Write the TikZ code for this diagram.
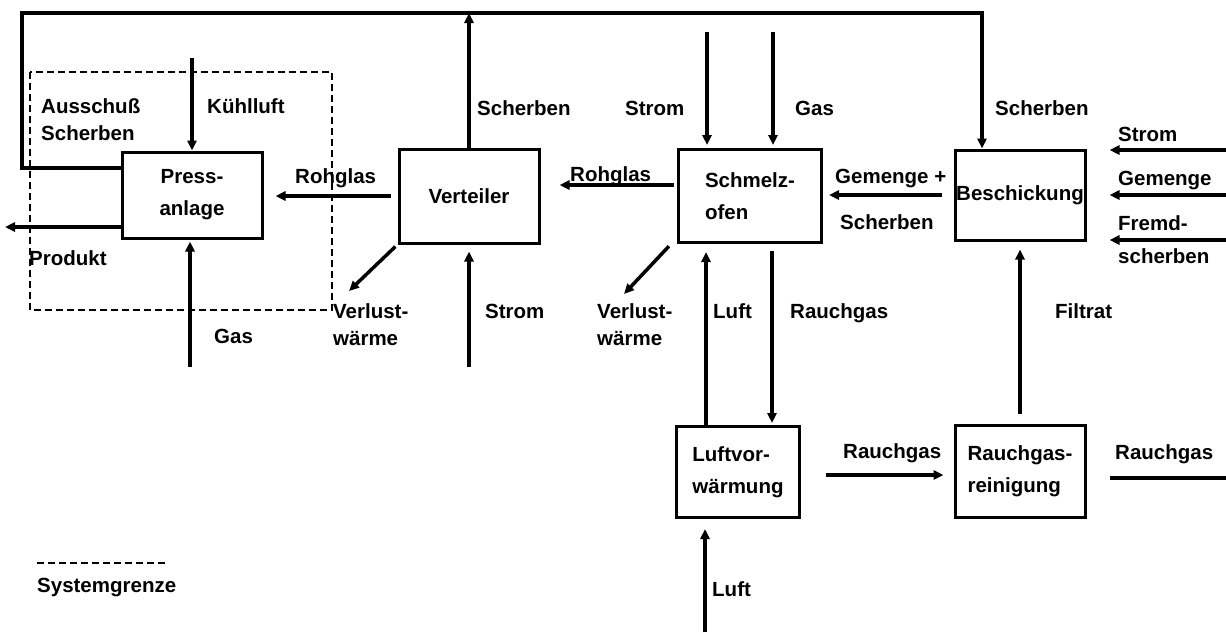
\documentclass[tikz,border=0pt]{standalone}
\usepackage{fontspec}
\setmainfont{Liberation Sans}
\usetikzlibrary{arrows.meta,calc}
\begin{document}
\begin{tikzpicture}[x=1pt,y=-1pt,
  every node/.style={font=\bfseries\fontsize{20.5}{27}\selectfont},
  box/.style={draw,line width=3pt,inner sep=0pt,align=center,font=\bfseries\fontsize{20.5}{32}\selectfont},
  lbl/.style={inner sep=0pt,anchor=base west,align=left},
  flow/.style={line width=3.5pt},
  arr/.style={line width=3.5pt,-{Triangle[length=10pt,width=9pt]}},
  sys/.style={line width=1.2pt,dash pattern=on 7pt off 4pt}]
\useasboundingbox (0,0) rectangle (1226,632);
\clip (0,0) rectangle (1226,632);
% boxes
\node[box,minimum width=140pt,minimum height=86pt] (press) at (192,195) {Press-\\anlage};
\node[box,minimum width=140pt,minimum height=94pt] (vert) at (469,196) {Verteiler};
\node[box,minimum width=143pt,minimum height=93pt,align=left] (schmelz) at (750,196) {Schmelz-\\ofen};
\node[box,minimum width=130pt,minimum height=90pt] (besch) at (1020,195) {Beschickung};
\node[box,minimum width=123pt,minimum height=91pt,align=left] (luftv) at (738,472) {Luftvor-\\wärmung};
\node[box,minimum width=130pt,minimum height=92pt,align=left] (rgr) at (1020,471) {Rauchgas-\\reinigung};
% system boundary
\draw[sys] (30,72) rectangle (332,310);
% free ends
\coordinate (loopL) at (22,13);
\coordinate (loopR) at (982,13);
\coordinate (kIn) at (192,58);
\coordinate (gasP) at (190,367);
\coordinate (prodEnd) at (5,227);
\coordinate (vlV) at (349,291);
\coordinate (strV) at (469,367);
\coordinate (strS) at (707,32);
\coordinate (gasS) at (773,32);
\coordinate (vlS) at (624,294);
\coordinate (xL) at (706,0);
\coordinate (xR) at (772,0);
\coordinate (inStrom) at (1226,150);
\coordinate (inGem) at (1226,195);
\coordinate (inFremd) at (1226,240);
\coordinate (rgOut) at (1226,478);
\coordinate (luftIn) at (705,632);
% connectors
\draw[arr,line width=4pt] ([yshift=27pt]press.west) -| (loopL) -| (loopR |- besch.north);
\draw[arr] (vert.north) -- (vert.north |- loopL);
\draw[arr] (kIn) -- (press.north);
\draw[arr,shorten >=2pt] (gasP) -- (gasP |- press.south);
\draw[arr] ([yshift=-32pt]press.west) -- (prodEnd);
\draw[arr,shorten <=7pt,shorten >=12pt] (vert.west) -- (vert.west -| press.east);
\draw[arr,shorten <=3pt] (vert.south west) -- (vlV);
\draw[arr,shorten >=7pt] (strV) -- (vert.south);
\draw[arr,shorten <=3pt,shorten >=19pt] ([yshift=11pt]schmelz.west) -- ([yshift=11pt]schmelz.west -| vert.east);
\draw[arr,shorten >=3pt] (strS) -- (strS |- schmelz.north);
\draw[arr,shorten >=3pt] (gasS) -- (gasS |- schmelz.north);
\draw[arr,shorten <=3pt] ([xshift=-6pt]schmelz.south west) -- (vlS);
\draw[arr,shorten >=8pt] (xL |- luftv.north) -- (xL |- schmelz.south);
\draw[arr,shorten <=7pt,shorten >=2pt] (xR |- schmelz.south) -- (xR |- luftv.north);
\draw[arr,shorten <=12pt,shorten >=6pt] (besch.west) -- (besch.west -| schmelz.east);
\draw[arr,shorten >=23pt] (inStrom) -- (inStrom -| besch.east);
\draw[arr,shorten >=23pt] (inGem) -- (inGem -| besch.east);
\draw[arr,shorten >=23pt] (inFremd) -- (inFremd -| besch.east);
\draw[arr,shorten <=10pt,shorten >=8pt] (rgr.north) -- (besch.south);
\draw[arr,shorten <=25pt,shorten >=10pt] ([yshift=-3pt]luftv.east) -- ([yshift=-3pt]luftv.east -| rgr.west);
\draw[flow,shorten <=23pt] (rgOut -| rgr.east) -- (rgOut);
\draw[arr,shorten >=10pt] (luftIn) -- (luftIn |- luftv.south);
% labels
\node[lbl] (tAus) at (41,140) {Ausschuß\\Scherben};
\node[lbl] (tKuehl) at (207,113) {Kühlluft};
\node[lbl] (tProd) at (29,265) {Produkt};
\node[lbl] (tGasP) at (214,343) {Gas};
\node[lbl] (tScherV) at (477,115) {Scherben};
\node[lbl] (tRohP) at (295,183) {Rohglas};
\node[lbl] (tVerlV) at (333,345) {Verlust-\\wärme};
\node[lbl] (tStrV) at (485,318) {Strom};
\node[lbl] (tRohS) at (570,181) {Rohglas};
\node[lbl] (tStrS) at (625,115) {Strom};
\node[lbl] (tGasS) at (795,115) {Gas};
\node[lbl] (tVerlS) at (597,345) {Verlust-\\wärme};
\node[lbl] (tLuft) at (713,318) {Luft};
\node[lbl] (tRauch) at (790,318) {Rauchgas};
\node[lbl] (tGem) at (835,183) {Gemenge +};
\node[lbl] (tGemS) at (840,229) {Scherben};
\node[lbl] (tScherB) at (995,115) {Scherben};
\node[lbl] (tStrB) at (1118,141) {Strom};
\node[lbl] (tGemB) at (1118,185) {Gemenge};
\node[lbl,font=\bfseries\fontsize{20.5}{33}\selectfont] (tFremd) at (1118,263) {Fremd-\\scherben};
\node[lbl] (tFilt) at (1055,318) {Filtrat};
\node[lbl] (tRauch2) at (843,458) {Rauchgas};
\node[lbl] (tRauch3) at (1115,459) {Rauchgas};
\node[lbl] (tLuft2) at (712,596) {Luft};
\draw[sys] (37,563) -- (165,563);
\node[lbl] (tSys) at (37,592) {Systemgrenze};
\end{tikzpicture}
\end{document}
